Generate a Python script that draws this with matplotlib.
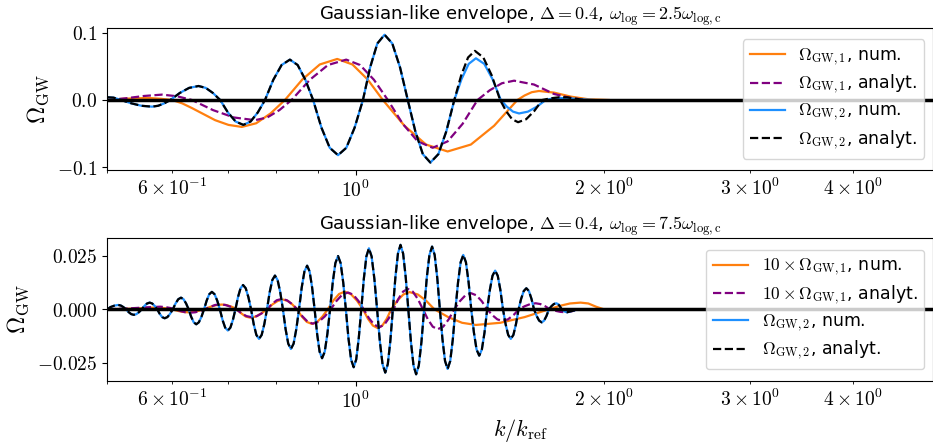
import matplotlib
matplotlib.use("Agg")
import matplotlib.pyplot as plt
import numpy as np

plt.rcParams['mathtext.fontset'] = 'cm'
plt.rcParams['font.family'] = ['DejaVu Sans']

# x values are read as log10(k/k_ref)

# ---- top panel: omega_log = 2.5 omega_log,c ----
logk_top2 = [-0.30036, -0.29312, -0.28408, -0.27141, -0.25935, -0.24644,
             -0.23908, -0.23172, -0.22437, -0.21299, -0.20161, -0.19023,
             -0.18150, -0.17278, -0.16405, -0.15468, -0.14532, -0.13595,
             -0.12722, -0.11850, -0.10977, -0.09972, -0.08966, -0.07961,
             -0.07024, -0.06088, -0.05151, -0.04146, -0.03140, -0.02135,
             -0.01130, -0.00124, 0.00881, 0.01753, 0.02626, 0.03498,
             0.04435, 0.05372, 0.06309, 0.07222, 0.08134, 0.09047,
             0.10012, 0.10977, 0.11942, 0.12815, 0.13687, 0.14560,
             0.15565, 0.16570, 0.17575, 0.18311, 0.19047, 0.19783,
             0.20857, 0.21931, 0.23004, 0.23806, 0.24608, 0.26019,
             0.27020, 0.28830]
om2_num_top = [0.004, 0.0035, 0.0, -0.0050, -0.0086, -0.0099,
               -0.00857, -0.00495, 0.0, 0.0104, 0.0180, 0.0208,
               0.0180, 0.0104, 0.0, -0.0185, -0.0320, -0.037,
               -0.0320, -0.0185, 0.0, 0.030, 0.052, 0.060,
               0.052, 0.030, 0.0, -0.041, -0.0710, -0.082,
               -0.0710, -0.041, 0.0, 0.0485, 0.0840, 0.097,
               0.0840, 0.0485, 0.0, -0.0465, -0.0805, -0.093,
               -0.0805, -0.0465, 0.0, 0.031, 0.0537, 0.062,
               0.0537, 0.031, 0.0, -0.010, -0.0173, -0.020,
               -0.0173, -0.010, 0.0, 0.0022, 0.003, 0.0024,
               0.0012, 0.0]

logk_top2a = [-0.30036, -0.29312, -0.28408, -0.27141, -0.25935, -0.24644,
              -0.23908, -0.23172, -0.22437, -0.21299, -0.20161, -0.19023,
              -0.18150, -0.17278, -0.16405, -0.15468, -0.14532, -0.13595,
              -0.12722, -0.11850, -0.10977, -0.09972, -0.08966, -0.07961,
              -0.07024, -0.06088, -0.05151, -0.04146, -0.03140, -0.02135,
              -0.01130, -0.00124, 0.00881, 0.01753, 0.02626, 0.03498,
              0.04435, 0.05372, 0.06309, 0.07222, 0.08134, 0.09047,
              0.10012, 0.10977, 0.11942, 0.12774, 0.13607, 0.14439,
              0.15456, 0.16474, 0.17491, 0.18215, 0.18939, 0.19662,
              0.20639, 0.21616, 0.22593, 0.23600, 0.24608, 0.25609,
              0.26600, 0.27624]
om2_an_top = [0.004, 0.0035, 0.0, -0.0050, -0.0086, -0.0099,
              -0.00857, -0.00495, 0.0, 0.0104, 0.0180, 0.0208,
              0.0180, 0.0104, 0.0, -0.0185, -0.0320, -0.037,
              -0.0320, -0.0185, 0.0, 0.030, 0.052, 0.060,
              0.052, 0.030, 0.0, -0.041, -0.0710, -0.082,
              -0.0710, -0.041, 0.0, 0.0485, 0.0840, 0.097,
              0.0840, 0.0485, 0.0, -0.0465, -0.0805, -0.093,
              -0.0805, -0.0465, 0.0, 0.0365, 0.0632, 0.073,
              0.0632, 0.0365, 0.0, -0.0165, -0.0286, -0.033,
              -0.0286, -0.0165, 0.0, 0.0025, 0.004, 0.004,
              0.002, 0.0]

logk_top1 = [-0.30036, -0.27865, -0.25090, -0.23600, -0.22195, -0.21000,
             -0.19820, -0.17010, -0.15400, -0.13788, -0.12047, -0.10306,
             -0.08565, -0.06454, -0.04343, -0.02232, -0.00390, 0.01451,
             0.03293, 0.05907, 0.08521, 0.11134, 0.13949, 0.16764,
             0.19578, 0.20450, 0.21323, 0.22195, 0.24005, 0.26055,
             0.28227, 0.30639]
om1_num_top = [0.0, 0.002, 0.003, 0.0018, 0.0, -0.005,
               -0.012, -0.030, -0.037, -0.040, -0.0346, -0.020,
               0.0, 0.0305, 0.0528, 0.061, 0.0528, 0.0305,
               0.0, -0.03825, -0.0662, -0.0765, -0.0662, -0.03825,
               0.0, 0.0067, 0.0116, 0.0134, 0.011, 0.005,
               0.001, 0.0]

logk_top1a = [-0.30036, -0.27865, -0.25600, -0.23438, -0.21600, -0.19819,
              -0.17274, -0.14728, -0.12183, -0.10707, -0.09231, -0.07756,
              -0.05553, -0.03350, -0.01146, 0.00535, 0.02216, 0.03896,
              0.05705, 0.07515, 0.09324, 0.11134, 0.12943, 0.14753,
              0.16229, 0.17704, 0.19180, 0.21592, 0.22800, 0.24005,
              0.26019, 0.28022]
om1_an_top = [0.0, 0.0025, 0.006, 0.008, 0.0055, 0.0,
              -0.015, -0.026, -0.030, -0.026, -0.015, 0.0,
              0.030, 0.052, 0.060, 0.052, 0.030, 0.0,
              -0.0355, -0.0615, -0.071, -0.0615, -0.0355, 0.0,
              0.0144, 0.0249, 0.0287, 0.023, 0.016, 0.009,
              0.003, 0.0]

# ---- bottom panel: omega_log = 7.5 omega_log,c ----
logk_bot2 = [-0.30036, -0.29700, -0.29200, -0.28745,
             -0.28431, -0.28118, -0.27805, -0.27491, -0.27178, -0.26864,
             -0.26542, -0.26221, -0.25899, -0.25577, -0.25256, -0.24934,
             -0.24632, -0.24331, -0.24029, -0.23727, -0.23426, -0.23124,
             -0.22794, -0.22465, -0.22135, -0.21805, -0.21476, -0.21146,
             -0.20838, -0.20531, -0.20223, -0.19915, -0.19608, -0.19300,
             -0.18984, -0.18669, -0.18353, -0.18037, -0.17722, -0.17406,
             -0.17084, -0.16763, -0.16441, -0.16119, -0.15798, -0.15476,
             -0.15169, -0.14861, -0.14554, -0.14246, -0.13939, -0.13631,
             -0.13309, -0.12988, -0.12666, -0.12344, -0.12023, -0.11701,
             -0.11379, -0.11058, -0.10736, -0.10414, -0.10093, -0.09771,
             -0.09449, -0.09128, -0.08806, -0.08484, -0.08163, -0.07841,
             -0.07513, -0.07186, -0.06858, -0.06530, -0.06203, -0.05875,
             -0.05573, -0.05272, -0.04970, -0.04668, -0.04367, -0.04065,
             -0.03743, -0.03422, -0.03100, -0.02778, -0.02457, -0.02135,
             -0.01819, -0.01504, -0.01188, -0.00872, -0.00557, -0.00241,
             0.00067, 0.00374, 0.00682, 0.00989, 0.01297, 0.01604,
             0.01934, 0.02264, 0.02594, 0.02923, 0.03253, 0.03583,
             0.03891, 0.04198, 0.04506, 0.04813, 0.05121, 0.05428,
             0.05744, 0.06059, 0.06375, 0.06691, 0.07006, 0.07322,
             0.07644, 0.07965, 0.08287, 0.08609, 0.08930, 0.09252,
             0.09566, 0.09879, 0.10193, 0.10507, 0.10820, 0.11134,
             0.11450, 0.11765, 0.12081, 0.12397, 0.12712, 0.13028,
             0.13350, 0.13671, 0.13993, 0.14315, 0.14636, 0.14958,
             0.15280, 0.15601, 0.15923, 0.16245, 0.16566, 0.16888,
             0.17204, 0.17519, 0.17835, 0.18151, 0.18466, 0.18782,
             0.19096, 0.19409, 0.19723, 0.20036, 0.20350, 0.20663,
             0.20973, 0.21282, 0.21592, 0.21902, 0.22211, 0.22521,
             0.22815, 0.23108, 0.23402, 0.23695, 0.23989, 0.24282,
             0.24503, 0.24724, 0.24946, 0.25167, 0.25388, 0.25609,
             0.26357, 0.26960]
om2_num_bot = [0.0, 0.0010, 0.0017, 0.0020,
               0.00173, 0.0010, 0.0, -0.0013, -0.00225, -0.0026,
               -0.00225, -0.0013, 0.0, 0.00155, 0.00268, 0.0031,
               0.00268, 0.00155, 0.0, -0.0021, -0.00364, -0.0042,
               -0.00364, -0.0021, 0.0, 0.0027, 0.00468, 0.0054,
               0.00468, 0.0027, 0.0, -0.0035, -0.00606, -0.0070,
               -0.00606, -0.0035, 0.0, 0.00405, 0.00701, 0.0081,
               0.00701, 0.00405, 0.0, -0.00495, -0.00857, -0.0099,
               -0.00857, -0.00495, 0.0, 0.00565, 0.00979, 0.0113,
               0.00979, 0.00565, 0.0, -0.0069, -0.01195, -0.0138,
               -0.01195, -0.0069, 0.0, 0.00785, 0.0136, 0.0157,
               0.0136, 0.00785, 0.0, -0.00925, -0.01602, -0.0185,
               -0.01602, -0.00925, 0.0, 0.01015, 0.01758, 0.0203,
               0.01758, 0.01015, 0.0, -0.0114, -0.01974, -0.0228,
               -0.01974, -0.0114, 0.0, 0.0124, 0.02148, 0.0248,
               0.02148, 0.0124, 0.0, -0.0135, -0.02338, -0.0270,
               -0.02338, -0.0135, 0.0, 0.0142, 0.02459, 0.0284,
               0.02459, 0.0142, 0.0, -0.01475, -0.02555, -0.0295,
               -0.02555, -0.01475, 0.0, 0.0150, 0.02598, 0.0300,
               0.02598, 0.0150, 0.0, -0.01515, -0.02624, -0.0303,
               -0.02624, -0.01515, 0.0, 0.0146, 0.02529, 0.0292,
               0.02529, 0.0146, 0.0, -0.0139, -0.02407, -0.0278,
               -0.02407, -0.0139, 0.0, 0.01265, 0.02191, 0.0253,
               0.02191, 0.01265, 0.0, -0.0108, -0.01871, -0.0216,
               -0.01871, -0.0108, 0.0, 0.0090, 0.01559, 0.0180,
               0.01559, 0.0090, 0.0, -0.0069, -0.01195, -0.0138,
               -0.01195, -0.0069, 0.0, 0.0049, 0.00849, 0.0098,
               0.00849, 0.0049, 0.0, -0.00305, -0.00528, -0.0061,
               -0.00528, -0.00305, 0.0, 0.0014, 0.00242, 0.0028,
               0.00242, 0.0014, 0.0, -0.0007, -0.00121, -0.0014,
               -0.0006, 0.0]
om2_an_bot = list(om2_num_bot)

logk_bot1 = [-0.30036, -0.27000, -0.25600, -0.24246, -0.23562, -0.22879, -0.22195,
             -0.21592, -0.20989, -0.20386, -0.19702, -0.19018, -0.18335,
             -0.17623, -0.16912, -0.16200, -0.15585, -0.14970, -0.14355,
             -0.13832, -0.13309, -0.12786, -0.12103, -0.11419, -0.10736,
             -0.10081, -0.09425, -0.08770, -0.08219, -0.07668, -0.07117,
             -0.06514, -0.05911, -0.05308, -0.04665, -0.04021, -0.03378,
             -0.02694, -0.02011, -0.01327, -0.00591, 0.00145, 0.00881,
             0.01484, 0.02087, 0.02690, 0.03229, 0.03767, 0.04306,
             0.05042, 0.05778, 0.06514, 0.07519, 0.08525, 0.09530,
             0.11207, 0.12883, 0.14560, 0.17507, 0.20455, 0.23402,
             0.24677, 0.25951, 0.27226, 0.28163, 0.29100, 0.30036]
om1x10_num_bot = [0.0, 0.0003, 0.0006, 0.0008, 0.0007, 0.0004, 0.0,
                  -0.0007, -0.0012, -0.0014, -0.0012, -0.0007, 0.0,
                  0.0011, 0.0019, 0.0022, 0.0019, 0.0011, 0.0,
                  -0.00195, -0.0034, -0.0039, -0.0034, -0.00195, 0.0,
                  0.00225, 0.0039, 0.0045, 0.0039, 0.00225, 0.0,
                  -0.0034, -0.0059, -0.0068, -0.0059, -0.0034, 0.0,
                  0.0041, 0.0071, 0.0082, 0.0071, 0.0041, 0.0,
                  -0.0044, -0.0076, -0.0088, -0.0076, -0.0044, 0.0,
                  0.0040, 0.0069, 0.0080, 0.0069, 0.0040, 0.0,
                  -0.00365, -0.0063, -0.0073, -0.0063, -0.00365, 0.0,
                  0.00155, 0.0027, 0.0031, 0.0027, 0.0012, 0.0]

logk_bot1a = [-0.30036, -0.27000, -0.25300, -0.23643, -0.23040, -0.22436, -0.21833,
              -0.21230, -0.20627, -0.20024, -0.19421, -0.18818, -0.18215,
              -0.17612, -0.17008, -0.16405, -0.15762, -0.15118, -0.14475,
              -0.13844, -0.13212, -0.12581, -0.11966, -0.11351, -0.10736,
              -0.10145, -0.09554, -0.08963, -0.08328, -0.07692, -0.07057,
              -0.06434, -0.05810, -0.05187, -0.04463, -0.03740, -0.03016,
              -0.02320, -0.01625, -0.00929, -0.00298, 0.00334, 0.00965,
              0.01608, 0.02252, 0.02895, 0.03458, 0.04021, 0.04584,
              0.05159, 0.05734, 0.06309, 0.06920, 0.07531, 0.08142,
              0.08737, 0.09333, 0.09928, 0.10599, 0.11271, 0.11942,
              0.12614, 0.13285, 0.13957, 0.14612, 0.15268, 0.15923,
              0.16538, 0.17153, 0.17768, 0.18440, 0.19111, 0.19783,
              0.20454, 0.21126, 0.21797, 0.22372, 0.22947, 0.23522,
              0.24153, 0.24785, 0.25416, 0.26200, 0.27020]
om1x10_an_bot = [0.0, 0.0005, 0.0009, 0.0012, 0.0010, 0.0006, 0.0,
                 -0.0008, -0.0014, -0.0016, -0.0014, -0.0008, 0.0,
                 0.00115, 0.0020, 0.0023, 0.0020, 0.00115, 0.0,
                 -0.00185, -0.0032, -0.0037, -0.0032, -0.00185, 0.0,
                 0.0024, 0.0042, 0.0048, 0.0042, 0.0024, 0.0,
                 -0.00335, -0.0058, -0.0067, -0.0058, -0.00335, 0.0,
                 0.0039, 0.0068, 0.0078, 0.0068, 0.0039, 0.0,
                 -0.00415, -0.0072, -0.0083, -0.0072, -0.00415, 0.0,
                 0.00475, 0.0082, 0.0095, 0.0082, 0.00475, 0.0,
                 -0.00465, -0.0081, -0.0093, -0.0081, -0.00465, 0.0,
                 0.00375, 0.0065, 0.0075, 0.0065, 0.00375, 0.0,
                 -0.0027, -0.0047, -0.0054, -0.0047, -0.0027, 0.0,
                 0.0014, 0.0024, 0.0028, 0.0024, 0.0014, 0.0,
                 -0.0007, -0.0012, -0.0014, -0.0009, 0.0]

# tick labels
xmajor = [1.0]
xmajor_labels = [r'$10^{0}$']
xminor = [0.5, 0.6, 0.7, 0.8, 0.9, 2.0, 3.0, 4.0, 5.0]
xminor_labels = ['', r'$6\times10^{-1}$', '', '', '', r'$2\times10^{0}$',
                 r'$3\times10^{0}$', r'$4\times10^{0}$', '']
yticks_top = [-0.1, 0.0, 0.1]
yticks_top_labels = [r'$-0.1$', r'$0.0$', r'$0.1$']
yticks_bot = [-0.025, 0.0, 0.025]
yticks_bot_labels = [r'$-0.025$', r'$0.000$', r'$0.025$']

c_orange = '#ff7f0e'
c_blue = '#1e90ff'
c_purple = 'purple'

fig = plt.figure(figsize=(9.33, 4.43), dpi=100)
ax1 = fig.add_axes([0.1147, 0.6163, 0.8853, 0.3205])
ax2 = fig.add_axes([0.1147, 0.1400, 0.8853, 0.3228])

def kk(logk):
    return 10 ** np.array(logk)

ax1.plot(kk(logk_top1), om1_num_top, color=c_orange, lw=1.6, label=r'$\Omega_{\rm GW,1}$, num.')
ax1.plot(kk(logk_top1a), om1_an_top, color=c_purple, lw=1.6, ls='--', label=r'$\Omega_{\rm GW,1}$, analyt.')
ax1.plot(kk(logk_top2), om2_num_top, color=c_blue, lw=1.6, label=r'$\Omega_{\rm GW,2}$, num.')
ax1.plot(kk(logk_top2a), om2_an_top, color='black', lw=1.6, ls='--', label=r'$\Omega_{\rm GW,2}$, analyt.')
ax1.axhline(0, color='black', lw=2.5, zorder=5)
ax1.set_ylim(-0.104, 0.107)
ax1.set_yticks(yticks_top, yticks_top_labels)
ax1.set_title(r'Gaussian-like envelope, $\Delta = 0.4$, $\omega_{\rm log} = 2.5\omega_{\rm log,c}$',
              fontsize=13)

ax2.plot(kk(logk_bot1), om1x10_num_bot, color=c_orange, lw=1.6, label=r'$10\times\Omega_{\rm GW,1}$, num.')
ax2.plot(kk(logk_bot1a), om1x10_an_bot, color=c_purple, lw=1.6, ls='--', label=r'$10\times\Omega_{\rm GW,1}$, analyt.')
ax2.plot(kk(logk_bot2), om2_num_bot, color=c_blue, lw=1.6, label=r'$\Omega_{\rm GW,2}$, num.')
ax2.plot(kk(logk_bot2), om2_an_bot, color='black', lw=1.6, ls='--', label=r'$\Omega_{\rm GW,2}$, analyt.')
ax2.axhline(0, color='black', lw=2.5, zorder=5)
ax2.set_ylim(-0.0334, 0.0332)
ax2.set_yticks(yticks_bot, yticks_bot_labels)
ax2.set_title(r'Gaussian-like envelope, $\Delta = 0.4$, $\omega_{\rm log} = 7.5\omega_{\rm log,c}$',
              fontsize=13)
ax2.set_xlabel(r'$k/k_{\rm ref}$', fontsize=16)

for ax in (ax1, ax2):
    ax.set_xscale('log')
    ax.set_xlim(0.5, 5)
    ax.set_xticks(xmajor, xmajor_labels)
    ax.set_xticks(xminor, xminor_labels, minor=True)
    ax.set_ylabel(r'$\Omega_{\rm GW}$', fontsize=17)
    ax.tick_params(which='both', labelsize=14)
    leg = ax.legend(loc='center right', fontsize=12.5, labelspacing=0.3)
    leg.set_zorder(10)

plt.savefig('out.png', dpi=100)
